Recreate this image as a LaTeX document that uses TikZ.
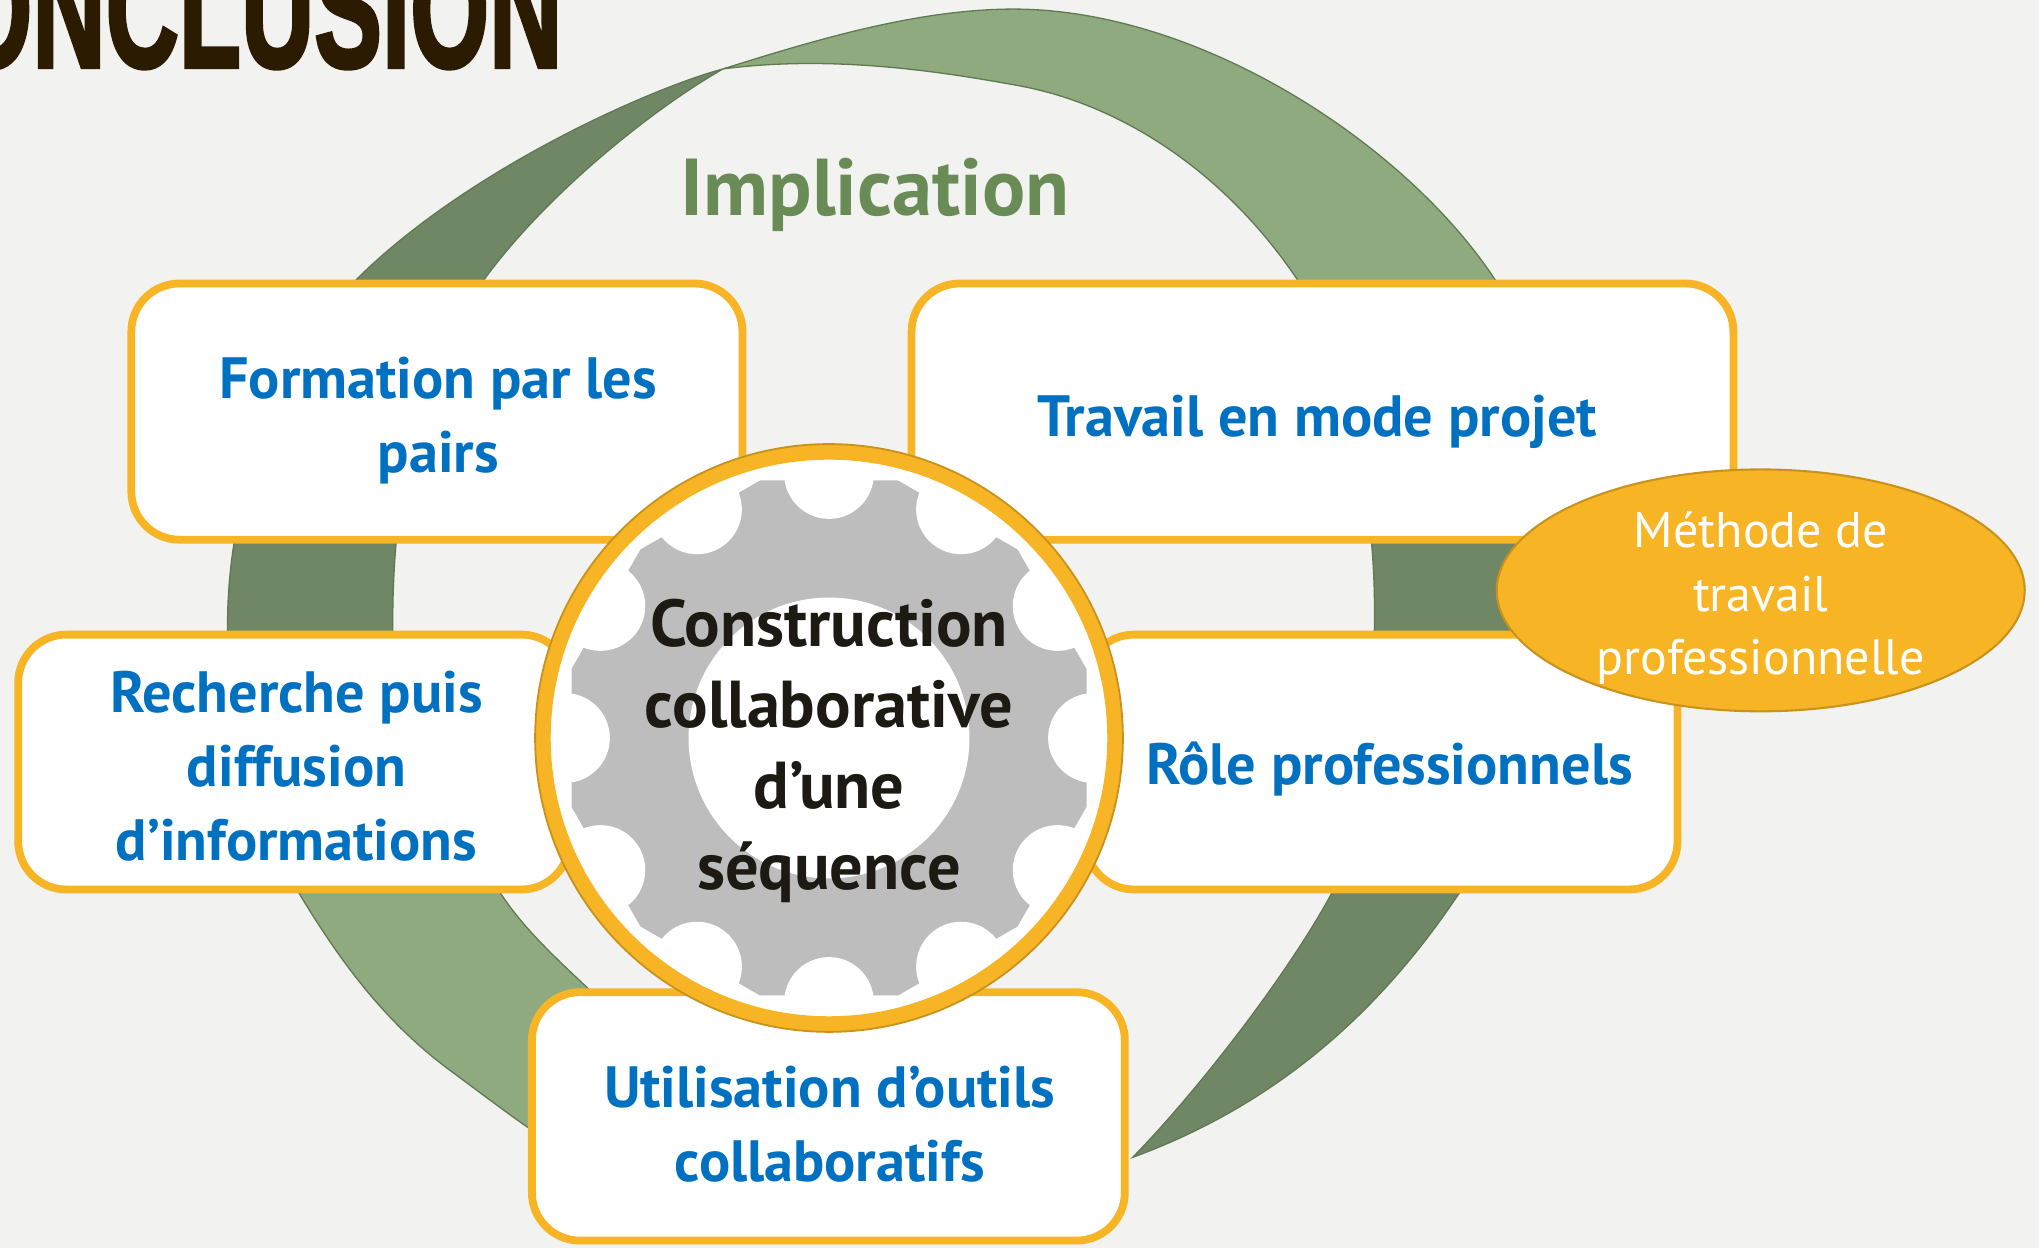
\documentclass[tikz,border=0pt]{standalone}
\usepackage{fontspec}
\usepackage{graphicx}
\setmainfont{PT Sans}
\newfontfamily\titlefont{Liberation Sans}[BoldFeatures={FakeBold=2.5}]
\usetikzlibrary{shapes.geometric,calc}
\definecolor{bgcol}{HTML}{F2F2F0}
\definecolor{gdark}{HTML}{6F8764}
\definecolor{glight}{HTML}{8FAA7E}
\definecolor{gedge}{HTML}{5F7A52}
\definecolor{implgreen}{HTML}{698B55}
\definecolor{orangec}{HTML}{F7B425}
\definecolor{orangedark}{HTML}{C8921D}
\definecolor{bluec}{HTML}{0070C0}
\definecolor{gearcol}{HTML}{BDBDBD}
\definecolor{textblack}{HTML}{1D1A13}
\definecolor{titlecol}{HTML}{2B1B00}
\tikzset{
  box/.style={draw=orangec, line width=3pt, fill=white, rounded corners=18.5pt, inner sep=0pt},
  boxtext/.style={text=bluec, font=\fontsize{22.4}{28.5}\selectfont\bfseries, align=center, inner sep=0pt},
  ribbondark/.style={fill=gdark, draw=gedge, line width=0.5pt},
  ribbonlight/.style={fill=glight, draw=gedge, line width=0.5pt},
}
\begin{document}
\begin{tikzpicture}[x=0.5pt,y=-0.5pt]
\useasboundingbox (0,0) rectangle (1568,960);
\fill[bgcol] (0,0) rectangle (1568,960);

% title
\node[anchor=base east, inner sep=0pt, text=titlecol] (title) at (433,51.5)
  {\titlefont\bfseries\fontsize{64}{64}\selectfont\scalebox{0.61}[1]{CONCLUSION}};

% twist points of the ribbon
\coordinate (T) at (556,53);
\coordinate (tip) at (871,890);

% ribbon: dark segments
\path[ribbondark] (T) .. controls (500,68) and (360,130) .. (275,214)
  .. controls (215,275) and (175,380) .. (175,480)
  .. controls (175,540) and (182,600) .. (195,640)
  -- (315,640) .. controls (305,590) and (302,540) .. (302,480)
  .. controls (302,380) and (320,290) .. (373,214)
  .. controls (420,150) and (500,85) .. (T) -- cycle;
\path[ribbondark] (1170,290) .. controls (1190,360) and (1195,420) .. (1192,470)
  .. controls (1188,560) and (1160,630) .. (1122,687)
  .. controls (1060,780) and (980,850) .. (tip)
  .. controls (920,840) and (990,750) .. (1024,687)
  .. controls (1045,640) and (1057,560) .. (1057,470)
  .. controls (1057,400) and (1045,340) .. (1030,290) -- cycle;
% ribbon: light segments
\path[ribbonlight] (T) .. controls (620,33) and (700,8) .. (775,7)
  .. controls (920,5) and (1080,110) .. (1149,214)
  .. controls (1170,250) and (1185,290) .. (1195,340)
  -- (1050,340) .. controls (1035,290) and (1020,250) .. (997,214)
  .. controls (940,130) and (860,80) .. (784,66)
  .. controls (724,55) and (640,42) .. (T) -- cycle;
\path[ribbonlight] (185,570) .. controls (195,625) and (210,660) .. (230,687)
  .. controls (265,745) and (300,790) .. (350,826)
  .. controls (385,852) and (415,875) .. (445,892)
  -- (490,790) .. controls (470,775) and (460,768) .. (450,758)
  .. controls (420,730) and (400,710) .. (385,687)
  .. controls (350,640) and (325,600) .. (312,570) -- cycle;

% Implication
\node[anchor=base, inner sep=0pt, text=implgreen, font=\fontsize{31}{33}\selectfont\bfseries] (impl) at (673,165.5) {Implication};

% boxes
\node[box, minimum width=235pt, minimum height=98.5pt] (form) at (336,316.5) {};
\node[box, minimum width=316pt, minimum height=98.5pt] (trav) at (1017,316.5) {};
\node[box, minimum width=212pt, minimum height=98pt] (rech) at (226,586) {};
\node[box, minimum width=227.5pt, minimum height=98pt] (role) at (1062.5,586) {};
\node[box, minimum width=228pt, minimum height=95.5pt] (util) at (637,858.5) {};
\node[boxtext] (formtext) at ($(form.center)+(1,7)$) {Formation par les\\pairs};
\node[boxtext] (travtext) at ($(trav.center)+(-4,8)$) {Travail en mode projet};
\node[boxtext] (rechtext) at ($(rech.center)+(2,3)$) {Recherche puis\\diffusion\\d’informations};
\node[boxtext] (roletext) at ($(role.center)+(6,5)$) {Rôle professionnels};
\node[boxtext] (utiltext) at ($(util.center)+(1,6)$) {Utilisation d’outils\\collaboratifs};

% ellipse
\node[ellipse, fill=orangec, draw=orangedark, line width=0.8pt, minimum width=203pt, minimum height=93pt,
  inner sep=0pt] (meth) at (1354,454) {};
\node[text=white, align=center, inner sep=0pt, font=\fontsize{19.2}{24.5}\selectfont] (methtext)
  at ($(meth.center)+(0,6)$) {Méthode de\\travail\\professionnelle};

% hub with gear
\node[circle, fill=white, inner sep=0pt, minimum size=226pt] (hub) at (637.5,567.5) {};
\begin{scope}
  \clip (hub.center) circle[radius=214];
  \fill[gearcol] ($(hub.center)+(15:205)$) \foreach \a in {45,75,...,345}{ -- ($(hub.center)+(\a:205)$) } -- cycle;
  \foreach \a in {0,30,...,330}{ \fill[white] ($(hub.center)+(\a:203)$) circle[radius=34.5]; }
  \fill[white] (hub.center) circle[radius=108];
\end{scope}
\draw[orangec, line width=6pt] (hub.center) circle[radius=220];
\draw[orangedark, line width=0.7pt] (hub.center) circle[radius=226];
\node[align=center, text=textblack, inner sep=0pt, font=\fontsize{25.5}{31.2}\selectfont\bfseries] (hubtext)
  at ($(hub.center)+(0,10)$) {Construction\\collaborative\\d’une\\séquence};
\end{tikzpicture}
\end{document}
